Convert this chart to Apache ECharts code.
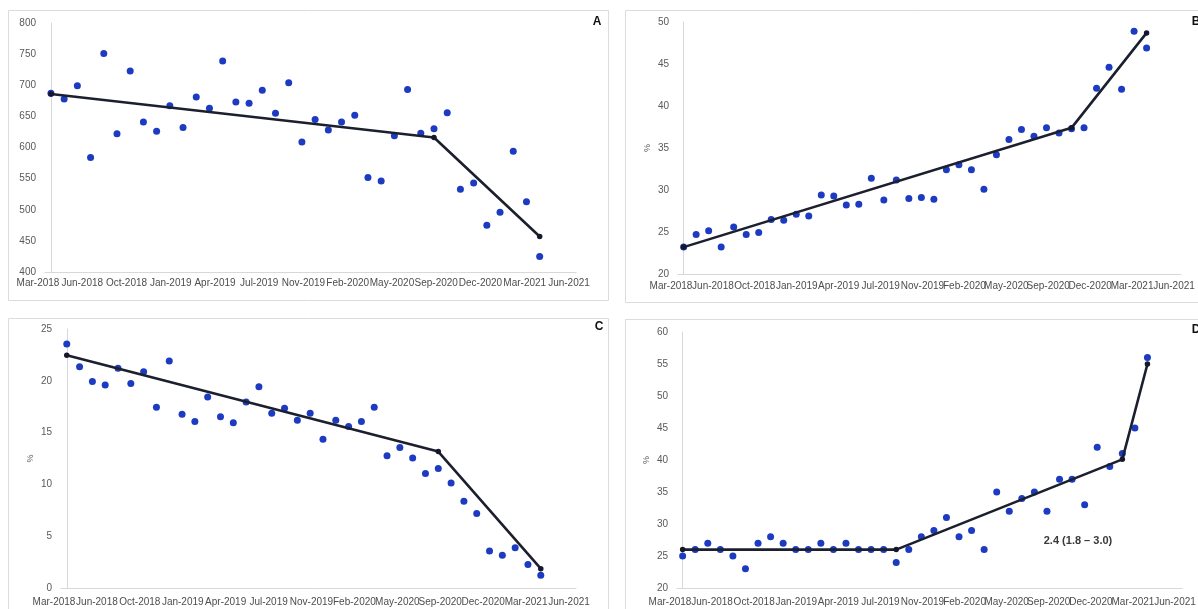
<!DOCTYPE html>
<html>
<head>
<meta charset="utf-8">
<script src="https://cdn.jsdelivr.net/npm/echarts@6/dist/echarts.min.js"></script>
<style>
html,body{margin:0;padding:0;background:#fff;}
#c{width:1198px;height:609px;}
</style>
</head>
<body>
<div id="c"></div>
<script>
// ---- data ----
const tickLabels = ['Mar-2018','Jun-2018','Oct-2018','Jan-2019','Apr-2019','Jul-2019','Nov-2019','Feb-2020','May-2020','Sep-2020','Dec-2020','Mar-2021','Jun-2021'];
// monthly observations, Mar-2018 .. Apr-2021 (index 0..37)
const valuesA = [687,678,699,584,751,622,723,641,626,667,632,681,663,739,673,671,692,655,704,609,645,628,641,652,552,546,619,693,623,630,656,533,543,475,496,594,513,425];
const valuesB = [23.2,24.7,25.15,23.2,25.6,24.7,24.95,26.5,26.4,27.1,26.9,29.4,29.3,28.2,28.3,31.4,28.8,31.2,29.0,29.1,28.9,32.4,33.0,32.4,30.1,34.2,36.0,37.2,36.4,37.4,36.8,37.3,37.4,42.1,44.6,42.0,48.9,46.9];
const valuesC = [23.56,21.35,19.94,19.6,21.2,19.74,20.87,17.44,21.9,16.76,16.06,18.43,16.54,15.96,17.95,19.42,16.86,17.34,16.19,16.86,14.36,16.19,15.58,16.06,17.44,12.76,13.56,12.56,11.06,11.54,10.13,8.37,7.18,3.56,3.17,3.88,2.28,1.22];
const valuesD = [25,26,27,26,25,23,27,28,27,26,26,27,26,27,26,26,26,24,26,28,29,31,28,29,26,35,32,34,35,32,37,37,33,42,39,41,45,56];
// joinpoint fitted segments (month index, value)
const jpIdxA = [0,29,37];    const jpValA = [686,616,457];
const jpIdxB = [0,31,37];    const jpValB = [23.2,37.4,48.7];
const jpIdxC = [0,29,37];    const jpValC = [22.47,13.17,1.86];
const jpIdxD = [0,17,35,37]; const jpValD = [26,26,40.1,55];
const panelLetters = ['A','B','C','D'];
const yMin = [400,20,0,20], yMax = [800,50,25,60], yStep = [50,5,5,5];
const annotD = '2.4 (1.8 \u2013 3.0)';

// ---- layout ----
const FONT = "'Liberation Sans', Arial, sans-serif";
const grids = [
  {left:45, top:23, width:531, height:249},
  {left:678, top:22, width:503, height:252},
  {left:61, top:329, width:515, height:259},
  {left:677, top:332, width:505, height:256}
];
const labelMargin = [6, 7, 9, 9];
const series = [valuesA, valuesB, valuesC, valuesD];
const jps = [[jpIdxA,jpValA],[jpIdxB,jpValB],[jpIdxC,jpValC],[jpIdxD,jpValD]];
const yNames = ['', '%', '%', '%'];

const option = {
  backgroundColor:'#fff',
  animation:false,
  textStyle:{fontFamily:FONT},
  grid: grids.map(g => Object.assign({containLabel:false, outerBoundsMode:'none'}, g)),
  xAxis: [],
  yAxis: [],
  series: [],
  graphic: []
};

for (let p = 0; p < 4; p++) {
  option.xAxis.push({
    type:'value', gridIndex:p, min:-0.45, max:39.75, show:false
  });
  option.xAxis.push({
    type:'category', gridIndex:p, position:'bottom', data:tickLabels, boundaryGap:false,
    axisLine:{show:true, lineStyle:{color:'#d6d9dc', width:1}},
    axisTick:{show:false},
    splitLine:{show:false},
    axisLabel:{interval:0, color:'#4d4d4d', fontSize:10, margin:labelMargin[p], fontFamily:FONT, padding:[0,14,0,0]}
  });
  option.yAxis.push({
    type:'value', gridIndex:p, min:yMin[p], max:yMax[p], interval:yStep[p],
    name:yNames[p], nameLocation:'middle', nameGap:26, nameRotate:90,
    nameTextStyle:{color:'#595959', fontSize:9},
    axisLine:{show:true, lineStyle:{color:'#d6d9dc', width:1}},
    axisTick:{show:false},
    splitLine:{show:false},
    axisLabel:{color:'#595959', fontSize:10, margin:9, fontFamily:FONT}
  });
  option.series.push({
    type:'scatter', xAxisIndex:2*p, yAxisIndex:p,
    data: series[p].map((v,i)=>[i,v]),
    symbolSize:7,
    itemStyle:{color:'#1c3bc0', opacity:1},
    z:2
  });
  option.series.push({
    type:'line', xAxisIndex:2*p, yAxisIndex:p,
    data: jps[p][0].map((ix,k)=>[ix, jps[p][1][k]]),
    symbol:'circle', symbolSize:5.5, showSymbol:true,
    lineStyle:{color:'#1c1f2e', width:2.6},
    itemStyle:{color:'#15172a'},
    z:3
  });
}

// panel frames
const frames = [[8,10,600,290],[625,10,600,292],[8,318,600,310],[625,319,600,310]];
frames.forEach(f => option.graphic.push({
  type:'rect', shape:{x:f[0]+0.5, y:f[1]+0.5, width:f[2], height:f[3]},
  style:{fill:'none', stroke:'#dcdcdc', lineWidth:1}, z:-1, silent:true
}));
// panel letters
const letterPos = [[597,22],[1196,22],[599,327],[1196,330]];
panelLetters.forEach((t,i)=>option.graphic.push({
  type:'text', x:letterPos[i][0], y:letterPos[i][1],
  style:{text:t, fill:'#111', font:'bold 12px ' + FONT, align:'center', verticalAlign:'middle'}
}));
option.graphic.push({
  type:'text', x:1078, y:541,
  style:{text:annotD, fill:'#3a3a3a', font:'bold 11px ' + FONT, align:'center', verticalAlign:'middle'}
});

const chart = echarts.init(document.getElementById('c'), null, {renderer:'canvas'});
chart.setOption(option);
</script>
</body>
</html>
